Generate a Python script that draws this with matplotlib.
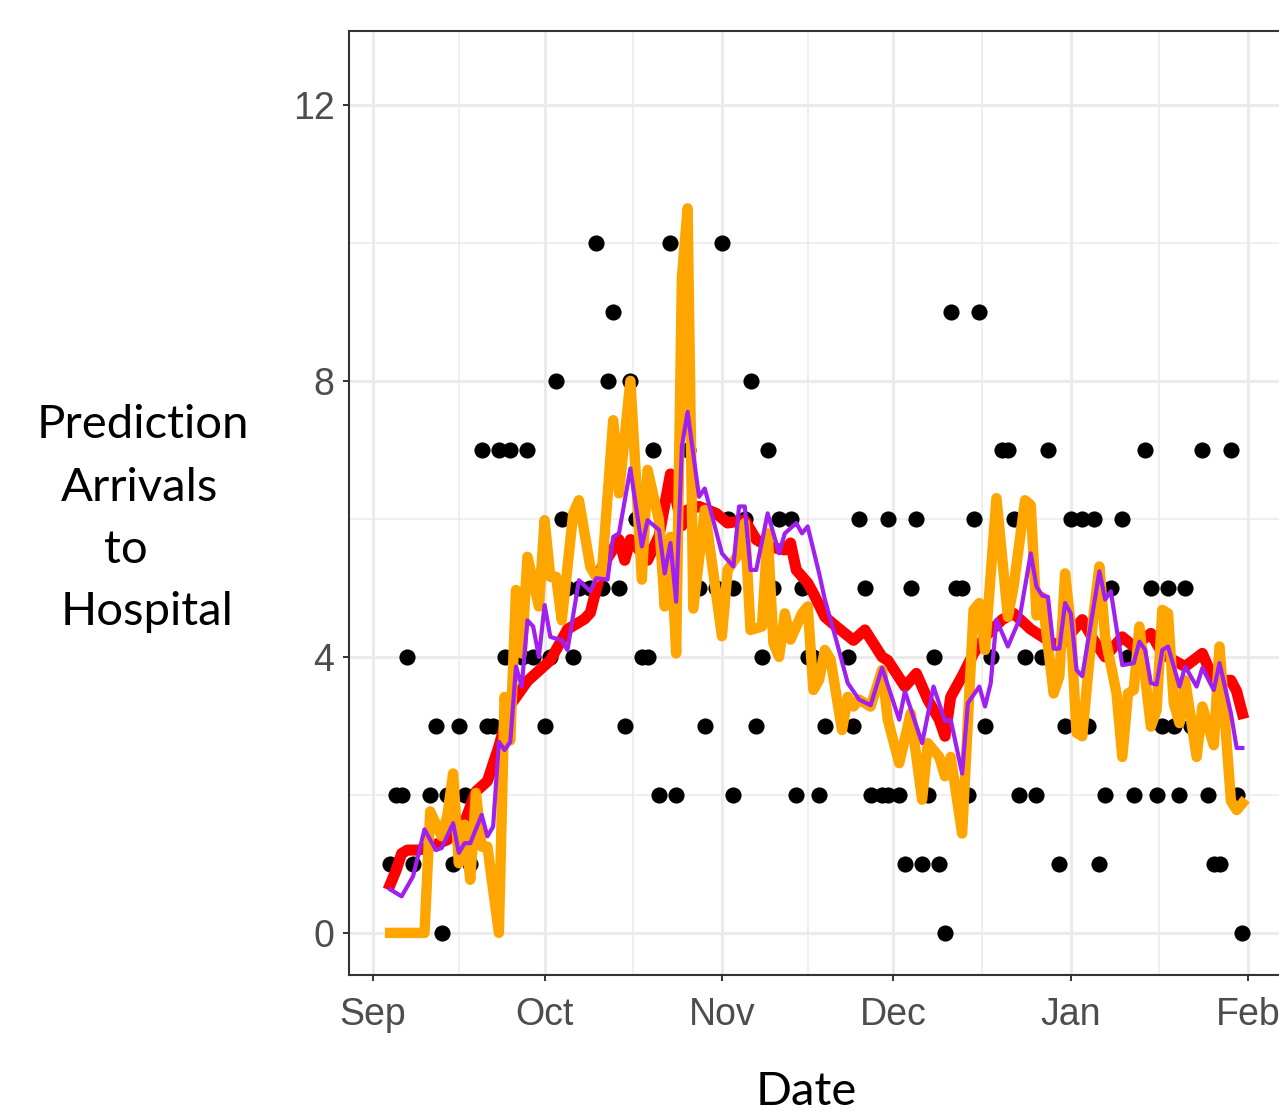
import numpy as np
import pandas as pd
import matplotlib
matplotlib.use("Agg")
import matplotlib.pyplot as plt
import matplotlib.dates as mdates

start = pd.Timestamp("2020-09-01")

# Observed daily arrivals (day offset from 1 Sep, count)
obs_day = [3, 4, 5, 6, 7, 10, 11, 12, 13, 14, 15, 16, 17, 19, 20, 21, 22, 23, 24, 26,
           27, 28, 30, 31, 32, 33, 34, 35, 36, 38, 39, 40, 41, 42, 43, 44, 45, 46, 47, 48,
           49, 50, 52, 53, 55, 57, 58, 60, 61, 62, 63, 63, 65, 66, 67, 68, 69, 70, 71, 73,
           74, 75, 76, 77, 78, 79, 83, 84, 85, 86, 87, 89, 90, 90, 92, 93, 94, 95, 96, 97,
           98, 99, 100, 101, 102, 103, 104, 105, 106, 107, 108, 110, 111, 112, 113, 114, 116, 117, 118, 120,
           121, 122, 124, 125, 126, 127, 128, 129, 131, 132, 133, 135, 136, 137, 138, 139, 140, 141, 142, 143,
           145, 146, 147, 148, 150, 151, 152]
obs_val = [1, 2, 2, 4, 1, 2, 3, 0, 2, 1, 3, 2, 1, 7, 3, 3, 7, 4, 7, 4,
           7, 4, 3, 4, 8, 6, 5, 4, 5, 5, 10, 5, 8, 9, 5, 3, 8, 6, 4, 4,
           7, 2, 10, 2, 7, 5, 3, 5, 10, 6, 5, 2, 6, 8, 3, 4, 7, 5, 6, 6,
           2, 5, 4, 4, 2, 3, 4, 3, 6, 5, 2, 2, 6, 2, 2, 1, 5, 6, 1, 2,
           4, 1, 0, 9, 5, 5, 2, 6, 9, 3, 4, 7, 7, 6, 2, 4, 2, 4, 7, 1,
           3, 6, 6, 3, 6, 1, 2, 5, 6, 4, 2, 7, 5, 2, 3, 5, 3, 2, 5, 3,
           7, 2, 1, 1, 7, 2, 0]

# Red prediction
red_day = [3, 4, 5, 6, 8, 10, 13, 16, 18, 20, 22, 24, 27, 29, 31, 34, 37, 38, 40, 43,
           44, 45, 48, 50, 52, 54, 55, 57, 60, 62, 65, 67, 69, 72, 73, 74, 76, 77, 79, 81,
           84, 86, 89, 90, 93, 95, 97, 99, 100, 101, 103, 105, 107, 110, 112, 115, 118, 120, 122, 124,
           126, 128, 131, 133, 136, 138, 140, 142, 145, 147, 150, 151, 152]
red_val = [0.70, 0.90, 1.15, 1.20, 1.20, 1.25, 1.35, 1.60, 2.05, 2.20, 2.70, 3.30, 3.65, 3.80, 3.95, 4.40, 4.55, 4.64, 5.30, 5.70,
           5.40, 5.70, 5.40, 5.75, 6.65, 5.90, 6.13, 6.18, 6.08, 5.94, 5.98, 5.70, 5.60, 5.55, 5.65, 5.26, 5.07, 4.92, 4.58, 4.44,
           4.24, 4.39, 4.00, 3.95, 3.57, 3.76, 3.38, 3.09, 2.85, 3.42, 3.72, 4.05, 4.29, 4.54, 4.63, 4.40, 4.24, 4.15, 4.34, 4.54,
           4.24, 4.00, 4.29, 4.15, 4.34, 4.05, 3.95, 3.86, 4.05, 3.66, 3.66, 3.50, 3.18]

# Purple prediction
pur_day = [3, 5, 7, 9, 11, 12, 14, 15, 16, 17, 19, 20, 21, 22, 23, 24, 25, 26, 27, 28,
           29, 30, 31, 33, 34, 36, 38, 39, 41, 42, 43, 45, 47, 48, 50, 51, 52, 53, 54, 55,
           57, 58, 59, 61, 63, 64, 65, 66, 67, 69, 71, 72, 74, 75, 76, 78, 79, 81, 83, 85,
           87, 89, 92, 93, 96, 98, 100, 101, 103, 104, 106, 107, 108, 109, 111, 113, 115, 116, 117, 118,
           119, 120, 121, 122, 123, 124, 127, 128, 129, 131, 133, 134, 135, 136, 137, 138, 139, 141, 142, 144,
           145, 147, 148, 150, 151, 152]
pur_val = [0.63, 0.53, 0.82, 1.50, 1.20, 1.23, 1.59, 1.16, 1.30, 1.30, 1.71, 1.40, 1.54, 2.77, 2.65, 2.77, 3.86, 3.57, 4.53, 4.44,
           4.00, 4.75, 4.29, 4.24, 4.10, 5.11, 4.95, 5.14, 5.12, 5.74, 5.79, 6.73, 5.60, 5.98, 5.84, 5.21, 5.65, 4.80, 7.05, 7.55,
           6.32, 6.44, 6.13, 5.50, 5.31, 6.18, 6.18, 5.26, 5.26, 6.08, 5.50, 5.79, 5.94, 5.79, 5.89, 5.21, 4.83, 4.24, 3.62, 3.38,
           3.30, 3.84, 3.09, 3.50, 2.75, 3.57, 3.07, 3.09, 2.31, 3.33, 3.57, 3.28, 3.62, 4.54, 4.15, 4.54, 5.50, 5.02, 4.89, 4.87,
           4.12, 4.12, 4.78, 4.63, 3.81, 3.72, 5.24, 4.83, 4.95, 3.88, 3.91, 4.22, 4.10, 3.62, 3.60, 4.10, 4.15, 3.57, 3.86, 3.57,
           3.84, 3.52, 3.91, 3.18, 2.68, 2.68]

# Orange prediction
ora_day = [3, 9, 10, 12, 13, 14, 15, 16, 17, 18, 19, 20, 22, 23, 24, 25, 26, 27, 29, 30,
           31, 32, 33, 35, 36, 38, 39, 40, 42, 43, 45, 47, 48, 50, 51, 52, 53, 54, 55, 56,
           58, 61, 62, 64, 65, 66, 68, 69, 70, 71, 72, 73, 75, 76, 77, 78, 79, 80, 82, 83,
           84, 85, 87, 89, 90, 92, 94, 96, 97, 99, 100, 101, 103, 105, 106, 107, 109, 111, 112, 114,
           115, 116, 117, 119, 120, 121, 122, 123, 124, 126, 127, 128, 130, 131, 132, 133, 134, 136, 137, 138,
           139, 140, 141, 142, 144, 145, 147, 148, 150, 151, 152]
ora_val = [0.00, 0.00, 1.76, 1.40, 1.70, 2.31, 1.01, 1.57, 0.77, 2.03, 1.25, 1.25, 0.00, 3.42, 2.79, 4.97, 4.05, 5.45, 4.73, 5.98,
           5.16, 5.16, 4.53, 6.08, 6.27, 5.30, 5.16, 5.21, 7.43, 6.37, 8.00, 5.12, 6.71, 5.98, 4.73, 5.74, 4.05, 9.50, 10.50, 4.70,
           6.13, 4.30, 5.26, 5.50, 5.94, 4.39, 4.44, 5.79, 4.20, 4.00, 4.63, 4.25, 4.63, 4.73, 3.52, 3.67, 4.10, 3.96, 2.94, 3.42,
           3.28, 3.38, 3.28, 3.81, 3.09, 2.46, 3.18, 1.93, 2.75, 2.55, 2.27, 2.55, 1.44, 4.68, 4.78, 4.10, 6.30, 4.58, 5.02, 6.27,
           6.20, 4.60, 4.87, 3.47, 3.72, 5.21, 4.44, 2.90, 2.85, 4.63, 5.31, 4.29, 3.47, 2.55, 3.47, 3.52, 4.44, 2.99, 3.23, 4.68,
           4.63, 3.33, 3.04, 3.66, 2.55, 3.28, 2.72, 4.15, 1.91, 1.78, 1.88]


def to_dates(days):
    return start + pd.to_timedelta(np.array(days), unit="D")


fig = plt.figure(figsize=(12.79, 11.12), dpi=100)
ax = fig.add_axes([349 / 1279, 137 / 1112, 936 / 1279, 944 / 1112])

ax.scatter(to_dates(obs_day), obs_val, s=135, c="black", linewidths=0, zorder=2)
ax.plot(to_dates(red_day), red_val, color="#FF0000", lw=8, solid_joinstyle="round", zorder=3)
ax.plot(to_dates(ora_day), ora_val, color="#FFA500", lw=7.5, solid_joinstyle="round", zorder=4)
ax.plot(to_dates(pur_day), pur_val, color="#A020F0", lw=3, zorder=5)

ax.set_xlim(start - pd.Timedelta(days=4.2), start + pd.Timedelta(days=159.45))
ax.set_ylim(-0.61, 13.07)

# month ticks, minor grid half-way between
ax.xaxis.set_major_locator(mdates.MonthLocator())
ax.xaxis.set_major_formatter(mdates.DateFormatter("%b"))
months = mdates.date2num(pd.date_range("2020-09-01", "2021-02-01", freq="MS"))
ax.set_xticks((months[:-1] + months[1:]) / 2, minor=True)
ax.set_yticks([0, 4, 8, 12])
ax.set_yticks([2, 6, 10], minor=True)

ax.grid(which="major", color="#EBEBEB", lw=2.2)
ax.grid(which="minor", color="#EBEBEB", lw=1.1)
ax.set_axisbelow(True)
ax.tick_params(which="major", length=4.5, width=1.4, color="#333333",
               labelsize=27, labelcolor="#4D4D4D")
ax.tick_params(axis="x", which="major", pad=11)
ax.tick_params(axis="y", which="major", pad=6)
ax.tick_params(which="minor", length=0)
for s in ax.spines.values():
    s.set_color("#333333")
    s.set_linewidth(1.5)

for label in ax.get_xticklabels() + ax.get_yticklabels():
    label.set_family("Liberation Sans")

# axis titles
ylab = [("Prediction", 37, 438), ("Arrivals", 61, 501), ("to", 104, 563), ("Hospital", 61, 625)]
for txt, px, py in ylab:
    fig.text(px / 1279, 1 - py / 1112, txt, fontsize=34, family="Lato",
             ha="left", va="baseline")
fig.text(806 / 1279, 1 - 1105 / 1112, "Date", fontsize=34, family="Lato",
         ha="center", va="baseline")

fig.savefig("out.png", dpi=100)
